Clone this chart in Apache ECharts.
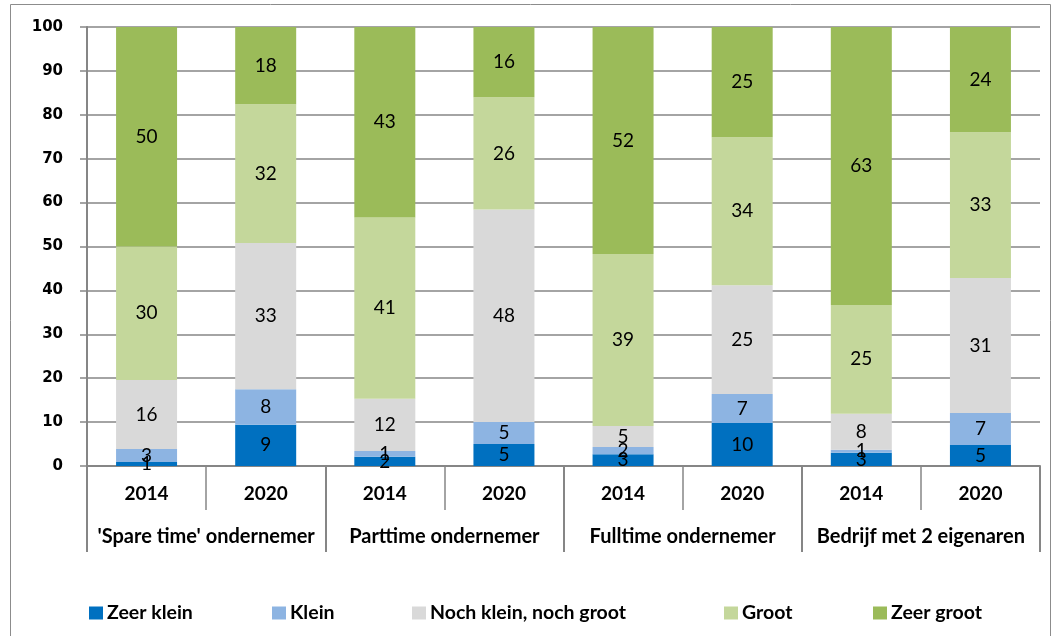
<!DOCTYPE html>
<html>
<head>
<meta charset="utf-8">
<script src="https://cdn.jsdelivr.net/npm/echarts@6/dist/echarts.min.js"></script>
<style>
  html, body { margin: 0; padding: 0; background: #fff; }
  #chart { width: 1055px; height: 636px; }
</style>
</head>
<body>
<div id="chart"></div>
<script>
// Bars: two survey years per type of entrepreneur
const years = ['2014', '2020', '2014', '2020', '2014', '2020', '2014', '2020'];
const groups = ["'Spare time' ondernemer", 'Parttime ondernemer', 'Fulltime ondernemer', 'Bedrijf met 2 eigenaren'];
const yTicks = [0, 10, 20, 30, 40, 50, 60, 70, 80, 90, 100];

// Shares (%) per answer category, one value per bar
const zeerKlein  = [0.9, 9.4, 2.1, 5.0, 2.7, 9.8, 3.0, 4.8];
const klein      = [3.0, 8.1, 1.3, 5.0, 1.6, 6.6, 0.7, 7.3];
const nochNoch   = [15.7, 33.3, 11.9, 48.4, 4.8, 24.8, 8.2, 30.7];
const groot      = [30.4, 31.6, 41.3, 25.6, 39.2, 33.7, 24.8, 33.2];
const zeerGroot  = [50.0, 17.6, 43.4, 16.0, 51.7, 25.1, 63.3, 24.0];

const seriesNames = ['Zeer klein', 'Klein', 'Noch klein, noch groot', 'Groot', 'Zeer groot'];
const seriesData = [zeerKlein, klein, nochNoch, groot, zeerGroot];
const colors = ['#0070C0', '#8DB4E2', '#D9D9D9', '#C4D79B', '#9BBB59'];
const legendLeft = [89, 272, 412, 724, 873];

const gridLine = '#868686';
const font = 'Lato, "Open Sans", sans-serif';

const chart = echarts.init(document.getElementById('chart'), null, { renderer: 'canvas' });

const series = seriesNames.map((name, i) => ({
  name: name,
  type: 'bar',
  stack: 'total',
  xAxisIndex: 0,
  barWidth: 61,
  data: seriesData[i],
  itemStyle: { color: colors[i] },
  label: {
    show: true,
    position: 'inside',
    color: '#000',
    fontFamily: font,
    fontSize: 19,
    formatter: p => String(Math.round(p.value))
  },
  emphasis: { disabled: true }
}));

const legends = seriesNames.map((name, i) => ({
  data: [name],
  left: legendLeft[i],
  top: 603,
  padding: 0,
  icon: 'rect',
  itemWidth: 14,
  itemHeight: 13,
  itemGap: 0,
  textStyle: { fontFamily: font, fontWeight: 'bold', fontSize: 19.5, color: '#000', padding: [0, 0, 0, -1] },
  selectedMode: false
}));

chart.setOption({
  animation: false,
  backgroundColor: '#fff',
  graphic: [{
    type: 'rect',
    shape: { x: 10.5, y: 4.5, width: 1040, height: 700 },
    style: { fill: 'none', stroke: '#8c8c8c', lineWidth: 1 },
    silent: true
  }],
  legend: legends,
  grid: { left: 87, right: 15, top: 27, bottom: 170, containLabel: false },
  xAxis: [{
    type: 'category',
    position: 'bottom',
    data: years,
    axisLine: { show: true, lineStyle: { color: gridLine, width: 2 } },
    axisTick: { show: true, length: 44, lineStyle: { color: gridLine, width: 1.5 } },
    axisLabel: { margin: 18, color: '#000', fontFamily: font, fontWeight: 'bold', fontSize: 19 }
  }, {
    type: 'category',
    position: 'bottom',
    data: groups,
    axisLine: { show: false },
    axisTick: { show: true, length: 86, lineStyle: { color: gridLine, width: 2 } },
    axisLabel: { margin: 61, color: '#000', fontFamily: font, fontWeight: 'bold', fontSize: 20, interval: 0 }
  }],
  yAxis: {
    type: 'value',
    min: yTicks[0],
    max: yTicks[yTicks.length - 1],
    interval: 10,
    axisLine: { show: true, lineStyle: { color: gridLine, width: 2 } },
    axisTick: { show: true, length: 7, lineStyle: { color: gridLine, width: 1.5 } },
    splitLine: { show: true, lineStyle: { color: gridLine, width: 1.5 } },
    axisLabel: { margin: 24, color: '#000', fontFamily: '"DejaVu Sans", sans-serif', fontWeight: 'bold', fontSize: 15 }
  },
  series: series
});
</script>
</body>
</html>
